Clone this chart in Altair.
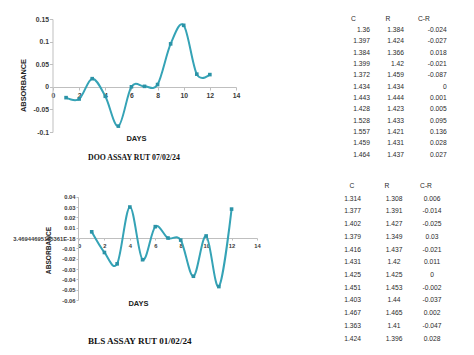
import altair as alt
import pandas as pd

# ---------------- data ----------------
days = list(range(1, 13))
doo_c = [1.36, 1.397, 1.384, 1.399, 1.372, 1.434, 1.443, 1.428, 1.528, 1.557, 1.459, 1.464]
doo_r = [1.384, 1.424, 1.366, 1.42, 1.459, 1.434, 1.444, 1.423, 1.433, 1.421, 1.431, 1.437]
doo_cr = [-0.024, -0.027, 0.018, -0.021, -0.087, 0, 0.001, 0.005, 0.095, 0.136, 0.028, 0.027]
bls_c = [1.314, 1.377, 1.402, 1.379, 1.416, 1.431, 1.425, 1.451, 1.403, 1.467, 1.363, 1.424]
bls_r = [1.308, 1.391, 1.427, 1.349, 1.437, 1.42, 1.425, 1.453, 1.44, 1.465, 1.41, 1.396]
bls_cr = [0.006, -0.014, -0.025, 0.03, -0.021, 0.011, 0, -0.002, -0.037, 0.002, -0.047, 0.028]
headers = ["C", "R", "C-R"]
x_ticks = [0, 2, 4, 6, 8, 10, 12, 14]
doo_y_ticks = [-0.1, -0.05, 0, 0.05, 0.1, 0.15]
bls_y_ticks = [-0.06, -0.05, -0.04, -0.03, -0.02, -0.01, 0, 0.01, 0.02, 0.03, 0.04]
bls_zero_label = "3.46944695195361E-18"
doo_title = "DOO ASSAY RUT 07/02/24"
bls_title = "BLS ASSAY RUT 01/02/24"
x_title = "DAYS"
y_title = "ABSORBANCE"

LINE = "#35A3B6"
MARK = "#2B93A7"
AXIS_GRAY = "#BFBFBF"
LABEL = "#3A3A3A"
SANS = "Liberation Sans"
W, H = 474, 355

MINUS = "\u2212"


def assay_chart(values, x_range, y_dom, y_range, y_ticks, y_axis_x, x_axis_y,
                label_size, ytitle_size, xtitle_size, ytitle_pos, xtitle_pos,
                tick_size, ylabel_pad, zero_label=None):
    df = pd.DataFrame({"day": days, "cr": values})
    fmt = f"replace(format(datum.value, '~g'), '{MINUS}', '-')"
    if zero_label is not None:
        fmt = f"abs(datum.value) < 1e-9 ? '{zero_label}' : " + fmt
    x = alt.X(
        "day:Q",
        scale=alt.Scale(domain=[0, 14], range=x_range, nice=False, zero=False),
        axis=alt.Axis(
            orient="bottom", offset=x_axis_y - H, values=x_ticks, grid=False,
            domainColor=AXIS_GRAY, tickColor=AXIS_GRAY, tickSize=tick_size,
            labelColor=LABEL, labelFont=SANS, labelFontWeight="bold",
            labelFontSize=label_size, labelFlush=False, labelOverlap=False,
            labelPadding=2, format="~g",
            title=x_title, titleFont=SANS, titleFontWeight="bold",
            titleFontSize=xtitle_size, titleColor="#222222",
            titleX=xtitle_pos[0], titleY=xtitle_pos[1] - x_axis_y,
            titleBaseline="middle", titleAlign="center",
        ),
    )
    y = alt.Y(
        "cr:Q",
        scale=alt.Scale(domain=y_dom, range=y_range, nice=False, zero=False),
        axis=alt.Axis(
            orient="left", offset=-y_axis_x, values=y_ticks, grid=False,
            domainColor=AXIS_GRAY, tickColor=AXIS_GRAY, tickSize=tick_size,
            labelColor=LABEL, labelFont=SANS, labelFontWeight="bold",
            labelFontSize=label_size, labelFlush=False, labelOverlap=False,
            labelPadding=ylabel_pad, labelExpr=fmt,
            title=y_title, titleFont=SANS, titleFontWeight="bold",
            titleFontSize=ytitle_size, titleColor="#222222",
            titleX=ytitle_pos[0] - y_axis_x, titleY=ytitle_pos[1],
            titleBaseline="middle", titleAlign="center", titleAngle=-90,
        ),
    )
    base = alt.Chart(df)
    line = base.mark_line(interpolate="cardinal", color=LINE, strokeWidth=2).encode(x=x, y=y)
    pts = base.mark_point(shape="square", filled=True, size=13, color=MARK, opacity=1).encode(x=x, y=y)
    return alt.layer(line, pts)


def table(c, r, cr, y_range, hdr_range, hdr_align, val_range, val_align, size):
    rows = []
    for i, trio in enumerate(zip(c, r, cr)):
        for j, v in enumerate(trio):
            rows.append({"row": i + 1, "col": j, "txt": f"{v:g}"})
    vals = pd.DataFrame(rows)
    hdr = pd.DataFrame({"row": [0, 0, 0], "col": [0, 1, 2], "txt": headers})
    y = alt.Y("row:Q", scale=alt.Scale(domain=[0, 12], range=y_range, nice=False, zero=False), axis=None)
    h = alt.Chart(hdr).mark_text(
        align=hdr_align, baseline="middle", font=SANS, fontSize=size, color="#2A2A2A"
    ).encode(
        x=alt.X("col:Q", scale=alt.Scale(domain=[0, 1, 2], range=hdr_range, nice=False, zero=False), axis=None),
        y=y, text="txt:N",
    )
    v = alt.Chart(vals).mark_text(
        align=val_align, baseline="middle", font=SANS, fontSize=size, color="#2A2A2A"
    ).encode(
        x=alt.X("col:Q", scale=alt.Scale(domain=[0, 1, 2], range=val_range, nice=False, zero=False), axis=None),
        y=y, text="txt:N",
    )
    return [h, v]


doo = assay_chart(doo_cr, [53, 236], [-0.1, 0.15], [132, 19], doo_y_ticks,
                  52.5, 87, 6.8, 7.4, 7.5, (23, 85), (136, 138), 3, 1)
bls = assay_chart(bls_cr, [79, 257], [-0.06, 0.04], [300, 196.7], bls_y_ticks,
                  78, 238, 5.8, 6.6, 7.5, (48, 250), (138, 303), 2, 1,
                  zero_label=bls_zero_label)

t1 = table(doo_c, doo_r, doo_cr, [18.5, 154.8], [351, 385.5, 418], "left",
           [370, 404, 446.7], "right", 6.7)
t2 = table(bls_c, bls_r, bls_cr, [186, 338.5], [352, 387, 426], "center",
           [352.6, 394, 432], "center", 6.7)

chart = alt.layer(doo, bls, *t1, *t2).resolve_scale(
    x="independent", y="independent"
).properties(
    width=W, height=H, padding=0,
    autosize=alt.AutoSizeParams(type="none"),
    background="white",
    title=alt.TitleParams(
        text=doo_title, subtitle=bls_title, anchor="start", frame="group",
        orient="top", offset=0, dx=88, dy=346,
        font="Liberation Serif", fontSize=7.8, fontWeight="bold", color="#111111",
        subtitleFont="Liberation Serif", subtitleFontSize=9.1,
        subtitleFontWeight="bold", subtitleColor="#111111", subtitlePadding=175,
    ),
).configure_view(stroke=None)

chart.save("out.html", embed_options={"renderer": "svg", "actions": False})
